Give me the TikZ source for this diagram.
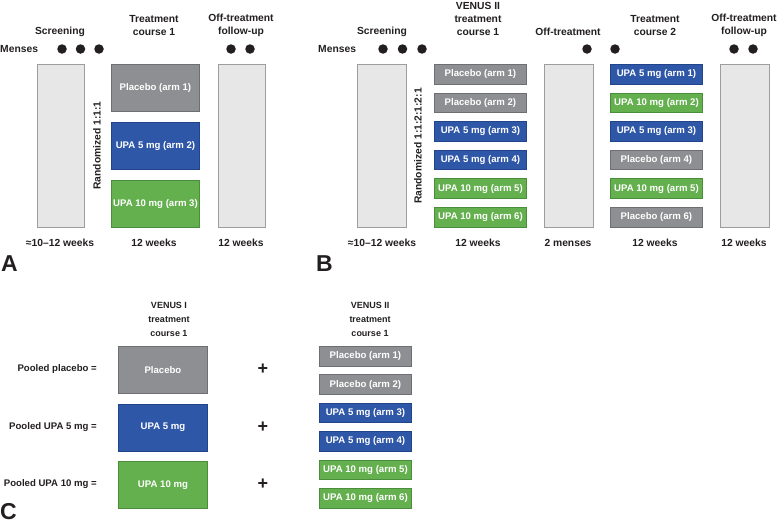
\documentclass[tikz,border=0pt]{standalone}
\usepackage{fontspec}
\setmainfont{Liberation Sans}
\definecolor{txt}{HTML}{231F20}
\definecolor{grayf}{HTML}{8E8F92}
\definecolor{grayd}{HTML}{6E6F72}
\definecolor{bluef}{HTML}{2F57A7}
\definecolor{blued}{HTML}{22448A}
\definecolor{greenf}{HTML}{64B04E}
\definecolor{greend}{HTML}{4A8D3A}
\definecolor{lightf}{HTML}{E7E7E8}
\definecolor{lightd}{HTML}{9D9D9F}
\tikzset{
  lbl/.style={text=txt,font=\fontsize{10.3}{13}\selectfont\bfseries,inner sep=0pt,align=center},
  clbl/.style={text=txt,font=\fontsize{9}{14}\selectfont\bfseries,inner sep=0pt,align=center},
  plbl/.style={text=txt,font=\fontsize{9.6}{12}\selectfont\bfseries,inner sep=0pt,anchor=east},
  armtxt/.style={text=white,font=\fontsize{9.6}{11}\selectfont\bfseries,inner sep=0pt,anchor=north west,line width=0.9pt},
  graybox/.style={armtxt,fill=grayf,draw=grayd},
  bluebox/.style={armtxt,fill=bluef,draw=blued},
  greenbox/.style={armtxt,fill=greenf,draw=greend},
  tallbox/.style={fill=lightf,draw=lightd,line width=0.9pt,anchor=north west,inner sep=0pt,minimum width=47pt,minimum height=163pt},
  dot/.style={circle,fill=txt,inner sep=0pt,minimum size=9.5pt},
  panel/.style={text=txt,font=\fontsize{23}{23}\selectfont\bfseries,inner sep=0pt},
  plus/.style={text=txt,font=\fontsize{18}{18}\selectfont\bfseries,inner sep=0pt},
  bigarm/.style={minimum width=88pt,minimum height=47pt},
  smallarm/.style={minimum width=92pt,minimum height=19.5pt}
}
\begin{document}
\begin{tikzpicture}[x=1pt,y=-1pt]
\useasboundingbox (0,0) rectangle (778,525);
% ---------- Panel A ----------
\node[lbl] (aScr) at (60,32) {Screening};
\node[lbl] (aTc) at (154,25.5) {Treatment\\course 1};
\node[lbl] (aFu) at (241,25.5) {Off-treatment\\follow-up};
\node[lbl,anchor=west] (aMen) at (0,49) {Menses};
\node[dot] (aD1) at (62,49) {};
\node[dot] (aD2) at (80.5,49) {};
\node[dot] (aD3) at (99,49) {};
\node[dot] (aD4) at (231,49) {};
\node[dot] (aD5) at (250,49) {};
\node[tallbox] (aScrBox) at (37,64) {};
\node[tallbox] (aFuBox) at (218,64) {};
\node[graybox,bigarm] (aArm1) at (111,64) {Placebo (arm 1)};
\node[bluebox,bigarm] (aArm2) at (111,122) {UPA 5 mg (arm 2)};
\node[greenbox,bigarm] (aArm3) at (111,180) {UPA 10 mg (arm 3)};
\node[lbl,rotate=90] (aRand) at (97,145.5) {Randomized 1:1:1};
\node[lbl] (aW1) at (60,243) {≈10–12 weeks};
\node[lbl] (aW2) at (154,243) {12 weeks};
\node[lbl] (aW3) at (241,243) {12 weeks};
\node[panel,anchor=west] (pA) at (1,263.5) {A};
% ---------- Panel B ----------
\node[lbl] (bScr) at (382,32) {Screening};
\node[lbl] (bTc1) at (478,19) {VENUS II\\treatment\\course 1};
\node[lbl] (bOff) at (568,32) {Off-treatment};
\node[lbl] (bTc2) at (655,25.5) {Treatment\\course 2};
\node[lbl] (bFu) at (744,25.5) {Off-treatment\\follow-up};
\node[lbl,anchor=west] (bMen) at (318,49) {Menses};
\node[dot] (bD1) at (383,49) {};
\node[dot] (bD2) at (402.5,49) {};
\node[dot] (bD3) at (422,49) {};
\node[dot] (bD4) at (587,49) {};
\node[dot] (bD5) at (615,49) {};
\node[dot] (bD6) at (734,49) {};
\node[dot] (bD7) at (753,49) {};
\node[tallbox,minimum width=49pt] (bScrBox) at (357,64) {};
\node[tallbox,minimum width=49pt] (bOffBox) at (544,64) {};
\node[tallbox,minimum width=49pt] (bFuBox) at (720,64) {};
\node[graybox,smallarm] (bA1) at (434,64) {Placebo (arm 1)};
\node[graybox,smallarm] (bA2) at (434,92.6) {Placebo (arm 2)};
\node[bluebox,smallarm] (bA3) at (434,121.2) {UPA 5 mg (arm 3)};
\node[bluebox,smallarm] (bA4) at (434,149.8) {UPA 5 mg (arm 4)};
\node[greenbox,smallarm] (bA5) at (434,178.4) {UPA 10 mg (arm 5)};
\node[greenbox,smallarm] (bA6) at (434,207) {UPA 10 mg (arm 6)};
\node[bluebox,smallarm] (bB1) at (610,64) {UPA 5 mg (arm 1)};
\node[greenbox,smallarm] (bB2) at (610,92.6) {UPA 10 mg (arm 2)};
\node[bluebox,smallarm] (bB3) at (610,121.2) {UPA 5 mg (arm 3)};
\node[graybox,smallarm] (bB4) at (610,149.8) {Placebo (arm 4)};
\node[greenbox,smallarm] (bB5) at (610,178.4) {UPA 10 mg (arm 5)};
\node[graybox,smallarm] (bB6) at (610,207) {Placebo (arm 6)};
\node[lbl,rotate=90] (bRand) at (418,146) {Randomized 1:1:2:1:2:1};
\node[lbl] (bW1) at (382,243) {≈10–12 weeks};
\node[lbl] (bW2) at (478,243) {12 weeks};
\node[lbl] (bW3) at (568,243) {2 menses};
\node[lbl] (bW4) at (655,243) {12 weeks};
\node[lbl] (bW5) at (744,243) {12 weeks};
\node[panel,anchor=west] (pB) at (316,263.5) {B};
% ---------- Panel C ----------
\node[clbl] (cH1) at (169,319.5) {VENUS I\\treatment\\course 1};
\node[clbl] (cH2) at (370,319.5) {VENUS II\\treatment\\course 1};
\node[graybox,bigarm,minimum width=89pt] (cP) at (118,346) {Placebo};
\node[bluebox,bigarm,minimum width=89pt] (cU5) at (118,403.5) {UPA 5 mg};
\node[greenbox,bigarm,minimum width=89pt] (cU10) at (118,461) {UPA 10 mg};
\node[plbl] (cL1) at (97,369) {Pooled placebo =};
\node[plbl] (cL2) at (97,427) {Pooled UPA 5 mg =};
\node[plbl] (cL3) at (97,484) {Pooled UPA 10 mg =};
\node[plus] (cPl1) at (263,369.5) {+};
\node[plus] (cPl2) at (263,427) {+};
\node[plus] (cPl3) at (263,484) {+};
\node[graybox,smallarm] (cA1) at (319,346) {Placebo (arm 1)};
\node[graybox,smallarm] (cA2) at (319,374.4) {Placebo (arm 2)};
\node[bluebox,smallarm] (cA3) at (319,402.8) {UPA 5 mg (arm 3)};
\node[bluebox,smallarm] (cA4) at (319,431.2) {UPA 5 mg (arm 4)};
\node[greenbox,smallarm] (cA5) at (319,459.6) {UPA 10 mg (arm 5)};
\node[greenbox,smallarm] (cA6) at (319,488) {UPA 10 mg (arm 6)};
\node[panel,anchor=west] (pC) at (0,512) {C};
\end{tikzpicture}
\end{document}
